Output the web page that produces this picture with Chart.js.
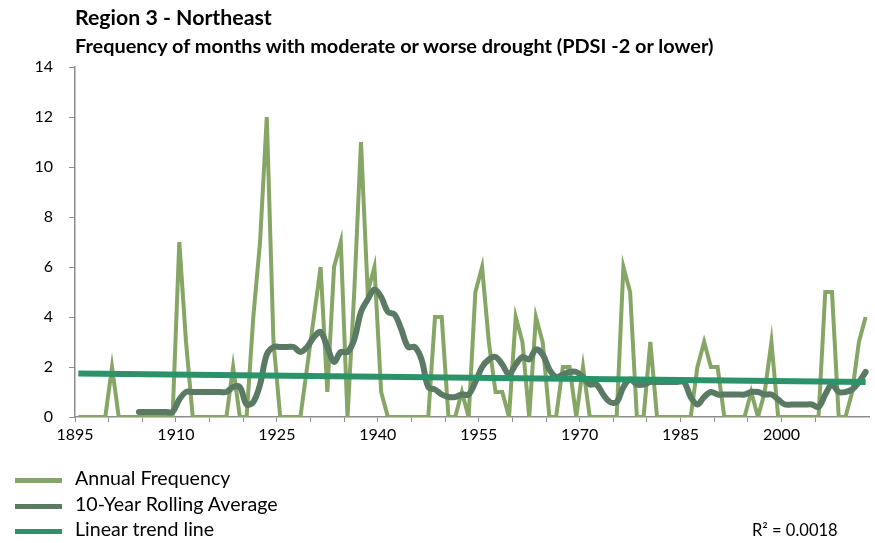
<!DOCTYPE html>
<html>
<head>
<meta charset="utf-8">
<script src="https://cdn.jsdelivr.net/npm/chart.js@4.4.1/dist/chart.umd.min.js"></script>
<style>
  body { margin: 0; background: #fff; font-family: Lato, "Open Sans", sans-serif; color: #000; }
  #wrap { position: relative; width: 875px; height: 543px; overflow: hidden; }
  #chart { position: absolute; left: 0; top: 0; }
  .title { position: absolute; left: 75px; top: 4px; font-weight: bold; font-size: 21.3px; white-space: nowrap; }
  .subtitle { position: absolute; left: 75px; top: 33px; font-weight: bold; font-size: 19.9px; white-space: nowrap; line-height: 24px; }
  .legend { position: absolute; left: 15px; font-size: 19.6px; white-space: nowrap; line-height: 20px; }
  .legend span.sw { display: inline-block; width: 47px; height: 5px; vertical-align: middle; margin-right: 13px; }
  .r2 { position: absolute; left: 752px; top: 520px; font-size: 16.5px; white-space: nowrap; line-height: 20px; }
</style>
</head>
<body>
<div id="wrap">
  <canvas id="chart" width="875" height="543"></canvas>
  <div class="title">Region 3 - Northeast</div>
  <div class="subtitle">Frequency of months with moderate or worse drought (PDSI -2 or lower)</div>
  <div class="legend" style="top:468px"><span class="sw" style="background:#86a666"></span>Annual Frequency</div>
  <div class="legend" style="top:494px"><span class="sw" style="background:#5a7a64"></span>10-Year Rolling Average</div>
  <div class="legend" style="top:519px"><span class="sw" style="background:#2a936a"></span>Linear trend line</div>
  <div class="r2">R² = 0.0018</div>
</div>
<script>
// data, one value per year starting 1895
const firstYear = 1895;
const annualFrequency = [
  0, 0, 0, 0, 0, 2, 0, 0, 0, 0,      // 1895-1904
  0, 0, 0, 0, 0, 7, 3, 0, 0, 0,      // 1905-1914
  0, 0, 0, 2, 0, 0, 4, 7, 12, 3,     // 1915-1924
  0, 0, 0, 0, 2, 4, 6, 1, 6, 7,      // 1925-1934
  0, 5, 11, 5, 6, 1, 0, 0, 0, 0,     // 1935-1944
  0, 0, 0, 4, 4, 0, 0, 1, 0, 5,      // 1945-1954
  6, 3, 1, 1, 0, 4, 3, 0, 4, 3,      // 1955-1964
  0, 0, 2, 2, 0, 2, 0, 0, 0, 0,      // 1965-1974
  0, 6, 5, 0, 0, 3, 0, 0, 0, 0,      // 1975-1984
  0, 0, 2, 3, 2, 2, 0, 0, 0, 0,      // 1985-1994
  1, 0, 1, 3, 0, 0, 0, 0, 0, 0,      // 1995-2004
  0, 5, 5, 0, 0, 1, 3, 4             // 2005-2012
];
const rollingAverage = [
  null, null, null, null, null, null, null, null, null, 0.2,   // 1895-1904
  0.2, 0.2, 0.2, 0.2, 0.2, 0.7, 1.0, 1.0, 1.0, 1.0,            // 1905-1914
  1.0, 1.0, 1.0, 1.2, 1.2, 0.5, 0.6, 1.3, 2.5, 2.8,            // 1915-1924
  2.8, 2.8, 2.8, 2.6, 2.8, 3.2, 3.4, 2.8, 2.2, 2.6,            // 1925-1934
  2.6, 3.1, 4.2, 4.7, 5.1, 4.8, 4.2, 4.1, 3.5, 2.8,            // 1935-1944
  2.8, 2.3, 1.2, 1.1, 0.9, 0.8, 0.8, 0.9, 0.9, 1.4,            // 1945-1954
  2.0, 2.3, 2.4, 2.1, 1.7, 2.1, 2.4, 2.3, 2.7, 2.5,            // 1955-1964
  1.9, 1.6, 1.7, 1.8, 1.8, 1.6, 1.3, 1.3, 0.9, 0.6,            // 1965-1974
  0.6, 1.2, 1.5, 1.3, 1.3, 1.4, 1.4, 1.4, 1.4, 1.4,            // 1975-1984
  1.4, 0.8, 0.5, 0.8, 1.0, 0.9, 0.9, 0.9, 0.9, 0.9,            // 1985-1994
  1.0, 1.0, 0.9, 0.9, 0.7, 0.5, 0.5, 0.5, 0.5, 0.5,            // 1995-2004
  0.4, 0.9, 1.3, 1.0, 1.0, 1.1, 1.4, 1.8                       // 2005-2012
];
// linear trend, read at its two ends
const trendYears = [1895, 2012];
const trendValues = [1.74, 1.40];
const yTicks = [0, 2, 4, 6, 8, 10, 12, 14];

const axisColor = '#8c8c8c';
const tickFont = { family: 'Lato', size: 16 };

// points sit in the middle of each year slot
function points(values, years) {
  return values.map((v, i) => ({ x: (years ? years[i] : firstYear + i) + 0.5, y: v }));
}

new Chart(document.getElementById('chart').getContext('2d'), {
  type: 'line',
  data: {
    datasets: [
      {
        label: 'Linear trend line',
        data: points(trendValues, trendYears),
        borderColor: '#2a936a',
        borderWidth: 6,
        pointRadius: 0,
        order: 1
      },
      {
        label: '10-Year Rolling Average',
        data: points(rollingAverage),
        borderColor: '#5a7a64',
        borderWidth: 6,
        pointRadius: 0,
        tension: 0.35,
        borderCapStyle: 'round',
        borderJoinStyle: 'round',
        spanGaps: false,
        order: 2
      },
      {
        label: 'Annual Frequency',
        data: points(annualFrequency),
        borderColor: '#86a666',
        borderWidth: 4,
        pointRadius: 0,
        tension: 0,
        borderJoinStyle: 'miter',
        order: 3
      }
    ]
  },
  options: {
    responsive: false,
    animation: false,
    devicePixelRatio: 1,
    layout: { padding: { left: 0, top: 67, right: 6, bottom: 96 } },
    plugins: { legend: { display: false }, tooltip: { enabled: false } },
    scales: {
      x: {
        type: 'linear',
        min: firstYear,
        max: 2013,
        afterBuildTicks: s => { s.ticks = s.ticks.filter(t => (t.value - firstYear) % 5 === 0); },
        afterFit: s => { s.height = 30; },
        grid: { drawOnChartArea: false, tickLength: 5, color: axisColor, tickColor: axisColor },
        border: { color: axisColor, width: 1.5 },
        ticks: {
          stepSize: 5, autoSkip: false, maxRotation: 0, padding: 3,
          color: '#000', font: tickFont,
          callback: v => (v - firstYear) % 15 === 0 ? String(v) : ''
        }
      },
      y: {
        min: 0,
        max: 14,
        afterBuildTicks: s => { s.ticks = yTicks.map(v => ({ value: v })); },
        afterFit: s => { s.width = 75; },
        grid: { drawOnChartArea: false, tickLength: 6, color: axisColor, tickColor: axisColor },
        border: { color: axisColor, width: 1.5 },
        ticks: { padding: 16, color: '#000', font: tickFont }
      }
    }
  }
});
</script>
</body>
</html>
